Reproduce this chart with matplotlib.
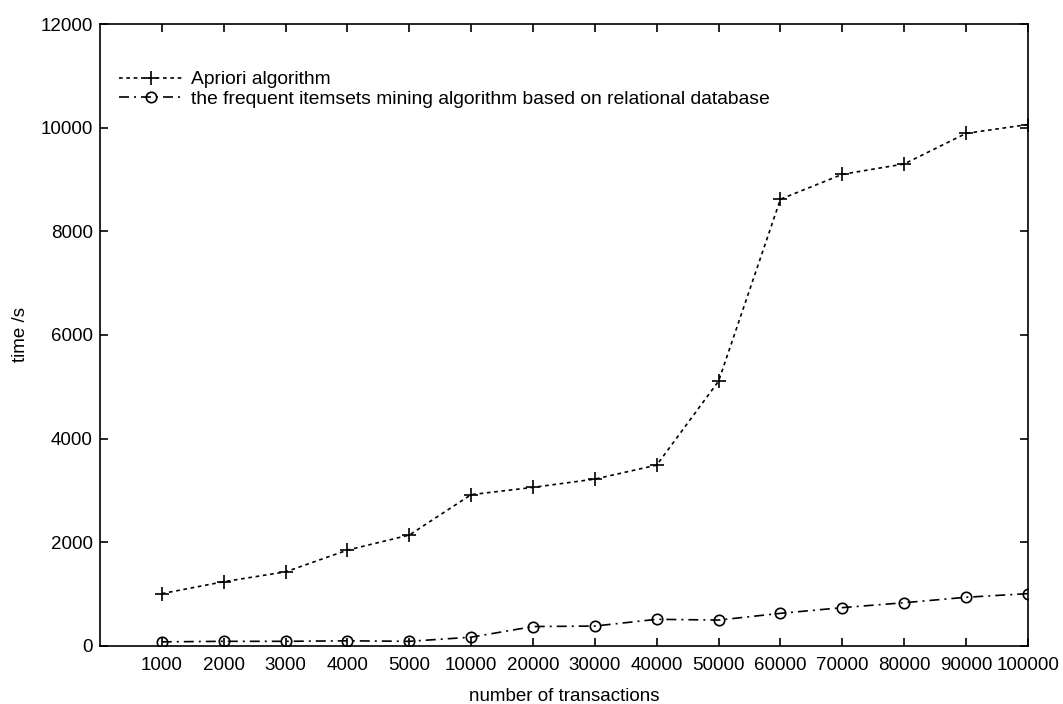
import matplotlib.pyplot as plt

plt.rcParams['font.family'] = ['Liberation Sans', 'DejaVu Sans']

# Data
transactions = ['1000', '2000', '3000', '4000', '5000', '10000', '20000', '30000',
                '40000', '50000', '60000', '70000', '80000', '90000', '100000']
apriori = [1010, 1240, 1430, 1850, 2140, 2920, 3060, 3220,
           3490, 5110, 8620, 9100, 9300, 9890, 10060]
rdb_mining = [80, 90, 90, 100, 90, 170, 375, 385,
              515, 500, 630, 740, 835, 940, 1010]

pos = list(range(1, len(transactions) + 1))
fs = 13.5

fig = plt.figure(figsize=(10.63, 7.04), dpi=100)
ax = fig.add_axes([0.094, 0.0824, 0.873, 0.8835])

ax.plot(pos, apriori, color='black', linestyle=(0, (2.2, 2.2)), linewidth=1.2,
        marker='+', markersize=10, markeredgewidth=1.2, label='Apriori algorithm')
ax.plot(pos, rdb_mining, color='black', linestyle=(0, (6, 3, 1.2, 3)), linewidth=1.2,
        marker='o', markersize=7.5, markerfacecolor='none', markeredgewidth=1.2,
        label='the frequent itemsets mining algorithm based on relational database')

ax.set_xlim(0, 15)
ax.set_ylim(0, 12000)
ax.set_xticks(pos)
ax.set_xticklabels(transactions)
ax.set_yticks(range(0, 12001, 2000))

ax.tick_params(direction='in', length=6, width=1.2, top=True, right=True,
               labelsize=fs, colors='black')
ax.tick_params(axis='x', pad=8)
ax.tick_params(axis='y', pad=5)
for s in ax.spines.values():
    s.set_linewidth(1.2)

ax.set_xlabel('number of transactions', fontsize=fs)
ax.set_ylabel('time /s', fontsize=fs)
ax.xaxis.set_label_coords(0.5, -0.068)
ax.yaxis.set_label_coords(-0.076, 0.5)

ax.legend(loc='upper left', bbox_to_anchor=(0.0205, 0.9245), frameon=False, fontsize=13.9,
          handlelength=3.3, handletextpad=0.42, labelspacing=0.1,
          borderaxespad=0, borderpad=0)

fig.savefig('out.png', dpi=100)
